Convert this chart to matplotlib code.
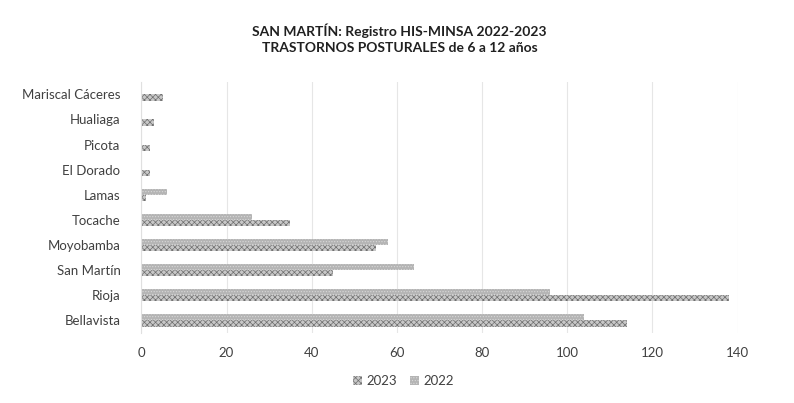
import matplotlib.pyplot as plt
import numpy as np

plt.rcParams['font.family'] = ['Lato', 'DejaVu Sans']
plt.rcParams['hatch.linewidth'] = 0.5

provincias = ['Bellavista', 'Rioja', 'San Martín', 'Moyobamba', 'Tocache',
              'Lamas', 'El Dorado', 'Picota', 'Hualiaga', 'Mariscal Cáceres']
casos_2022 = [104, 96, 64, 58, 26, 6, 0, 0, 0, 0]
casos_2023 = [114, 138, 45, 55, 35, 1, 2, 2, 3, 5]

fig = plt.figure(figsize=(7.94, 4.03), dpi=100)
ax = fig.add_axes([0.178, 0.174, 0.751, 0.623])

y = np.arange(len(provincias))
h = 0.25
# 2023 goes below, 2022 above inside each province (Excel order)
ax.barh(y - h / 2, casos_2023, height=h, color='#c8c8c8', edgecolor='#6e6e6e',
        hatch='xxxxxx', linewidth=0, label='2023')
ax.barh(y + h / 2, casos_2022, height=h, color='#b4b4b4', edgecolor='#d8d8d8',
        hatch='......', linewidth=0, label='2022')

ax.set_xlim(0, 140)
ax.set_ylim(-0.5, len(provincias) - 0.5)
ax.set_xticks(range(0, 141, 20))
ax.set_yticks(y)
ax.set_yticklabels(provincias)
ax.tick_params(length=0, labelsize=9.5, labelcolor='#404040')
ax.tick_params(axis='y', pad=15)
ax.tick_params(axis='x', pad=10)
ax.grid(axis='x', color='#e6e6e6', linewidth=0.8)
ax.set_axisbelow(True)
for s in ['top', 'right', 'bottom']:
    ax.spines[s].set_visible(False)
ax.spines['left'].set_color('#e0e0e0')

fig.text(0.503, 0.905, 'SAN MARTÍN: Registro HIS-MINSA 2022-2023\nTRASTORNOS POSTURALES de 6 a 12 años',
         ha='center', va='center', fontsize=10, fontweight='bold', color='#202020',
         linespacing=1.4)

leg = fig.legend(loc='center', bbox_to_anchor=(0.508, 0.055), ncol=2, frameon=False,
                 fontsize=9.5, handlelength=0.7, handleheight=0.7, columnspacing=1.0,
                 handletextpad=0.3)
for t in leg.get_texts():
    t.set_color('#404040')

fig.savefig('out.png', dpi=100)
